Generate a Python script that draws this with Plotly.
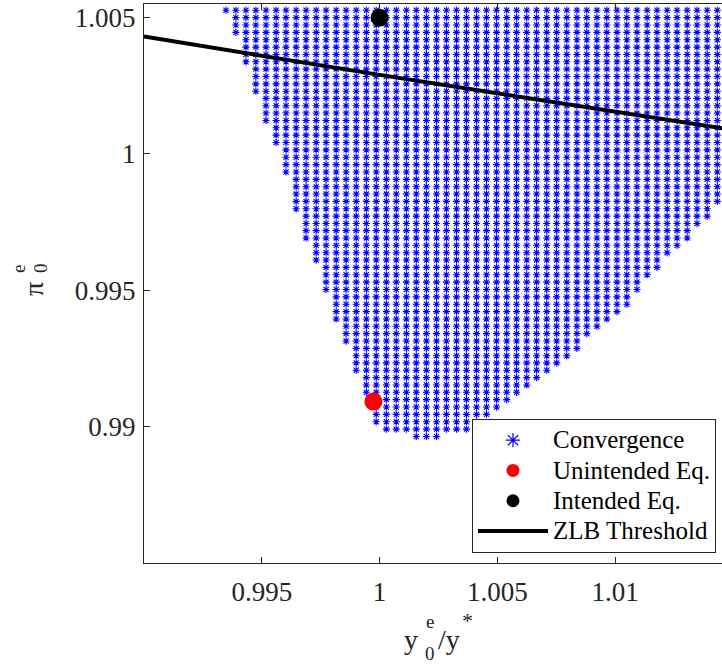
import plotly.graph_objects as go

# ---- data ----
# x positions of the grid columns (y0^e / y*)
x_cols = [0.99348, 0.99390, 0.99433, 0.99475, 0.99518, 0.99561, 0.99603, 0.99646,
          0.99688, 0.99731, 0.99773, 0.99816, 0.99858, 0.99901, 0.99944, 0.99986,
          1.00029, 1.00071, 1.00114, 1.00156, 1.00199, 1.00242, 1.00284, 1.00327,
          1.00369, 1.00412, 1.00454, 1.00497, 1.00540, 1.00582, 1.00625, 1.00667,
          1.00710, 1.00752, 1.00795, 1.00838, 1.00880, 1.00923, 1.00965, 1.01008,
          1.01050, 1.01093, 1.01136, 1.01178, 1.01221, 1.01263, 1.01306, 1.01348,
          1.01391, 1.01434]
# y positions of the grid rows (pi_0^e)
y_rows = [1.00527, 1.00500, 1.00473, 1.00446, 1.00419, 1.00392, 1.00365, 1.00338,
          1.00311, 1.00284, 1.00257, 1.00230, 1.00204, 1.00177, 1.00150, 1.00123,
          1.00096, 1.00069, 1.00042, 1.00015, 0.99988, 0.99961, 0.99934, 0.99907,
          0.99880, 0.99853, 0.99826, 0.99799, 0.99772, 0.99745, 0.99719, 0.99692,
          0.99665, 0.99638, 0.99611, 0.99584, 0.99557, 0.99530, 0.99503, 0.99476,
          0.99449, 0.99422, 0.99395, 0.99368, 0.99341, 0.99314, 0.99287, 0.99260,
          0.99234, 0.99207, 0.99180, 0.99153, 0.99126, 0.99099, 0.99072, 0.99045,
          0.99018, 0.98991, 0.98964]
# lowest converging row for every column (region extends up to the top)
conv_ymin = [1.00527, 1.00446, 1.00338, 1.00230, 1.00123, 1.00042, 0.99934, 0.99799,
             0.99692, 0.99611, 0.99503, 0.99395, 0.99314, 0.99207, 0.99126, 0.99018,
             0.98991, 0.98991, 0.98991, 0.98964, 0.98964, 0.98964, 0.98991, 0.98991,
             0.98991, 0.99018, 0.99045, 0.99072, 0.99099, 0.99126, 0.99153, 0.99180,
             0.99207, 0.99234, 0.99260, 0.99287, 0.99341, 0.99368, 0.99395, 0.99422,
             0.99449, 0.99503, 0.99557, 0.99584, 0.99638, 0.99665, 0.99692, 0.99745,
             0.99772, 0.99826]

unintended_x = [0.99974]
unintended_y = [0.99092]
intended_x = [1.0]
intended_y = [1.005]
zlb_x = [0.99, 1.0, 1.015]
zlb_y = [1.00431, 1.00290, 1.00088]

x_ticks = [0.995, 1.0, 1.005, 1.01]
x_ticktext = ["0.995", "1", "1.005", "1.01"]
y_ticks = [0.99, 0.995, 1.0, 1.005]
y_ticktext = ["0.99", "0.995", "1", "1.005"]

legend_names = ["Convergence", "Unintended Eq.", "Intended Eq.", "ZLB Threshold"]

# ---- build convergence point set ----
conv_x, conv_y = [], []
for xc, ymin in zip(x_cols, conv_ymin):
    for yr in y_rows:
        if yr >= ymin - 1e-7:
            conv_x.append(xc)
            conv_y.append(yr)

FONT = "Liberation Serif"
AX = "#262626"


def lname(s):
    return '<span style="font-size:25px">' + s + '</span>'


fig = go.Figure()
fig.add_trace(go.Scatter(x=conv_x, y=conv_y, mode="markers", showlegend=False,
                         marker=dict(symbol="asterisk-open", size=6, color="#0000FF",
                                     line=dict(color="#0000FF", width=1.1))))
fig.add_trace(go.Scatter(x=zlb_x, y=zlb_y, mode="lines", showlegend=False,
                         line=dict(color="black", width=4)))
fig.add_trace(go.Scatter(x=unintended_x, y=unintended_y, mode="markers", showlegend=False,
                         marker=dict(symbol="circle", size=18, color="#FF0000")))
fig.add_trace(go.Scatter(x=intended_x, y=intended_y, mode="markers", showlegend=False,
                         marker=dict(symbol="circle", size=18, color="black")))

# legend entries
fig.add_trace(go.Scatter(x=[None], y=[None], mode="markers", name=lname(legend_names[0]),
                         marker=dict(symbol="asterisk-open", size=12, color="#0000FF",
                                     line=dict(color="#0000FF", width=1.2))))
fig.add_trace(go.Scatter(x=[None], y=[None], mode="markers", name=lname(legend_names[1]),
                         marker=dict(symbol="circle", size=13, color="#FF0000")))
fig.add_trace(go.Scatter(x=[None], y=[None], mode="markers", name=lname(legend_names[2]),
                         marker=dict(symbol="circle", size=13, color="black")))
fig.add_trace(go.Scatter(x=[None], y=[None], mode="lines", name=lname(legend_names[3]),
                         line=dict(color="black", width=4)))

L, T, B = 144, 4, 104
W, H = 722, 667
pw, ph = W - L, H - T - B


def px(xp):
    return (xp - L) / pw


def py(yp):
    return (H - B - yp) / ph


annos = []
# x-axis title  y_0^e / y^*
annos.append(dict(text="y", x=px(411), y=py(639), font=dict(size=28)))
annos.append(dict(text="e", x=px(430), y=py(621), font=dict(size=19)))
annos.append(dict(text="0", x=px(430), y=py(653), font=dict(size=19)))
annos.append(dict(text="/y", x=px(449), y=py(639), font=dict(size=28)))
annos.append(dict(text="*", x=px(467), y=py(620), font=dict(size=22)))
# y-axis title  pi_0^e (rotated)
annos.append(dict(text="π", x=px(33), y=py(289), font=dict(size=28), textangle=-90))
annos.append(dict(text="e", x=px(18), y=py(269), font=dict(size=19), textangle=-90))
annos.append(dict(text="0", x=px(40), y=py(268), font=dict(size=19), textangle=-90))
for a in annos:
    a.update(xref="paper", yref="paper", showarrow=False, xanchor="center", yanchor="middle")
    a["font"].update(family=FONT, color=AX)

fig.update_layout(
    width=W, height=H,
    margin=dict(l=L, r=0, t=T, b=B, pad=0),
    paper_bgcolor="white", plot_bgcolor="white",
    font=dict(family=FONT, color=AX),
    annotations=annos,
    legend=dict(x=px(472), y=py(553), xanchor="left", yanchor="bottom",
                bgcolor="white", bordercolor=AX, borderwidth=1,
                font=dict(family=FONT, size=21, color="black"),
                itemwidth=70, tracegroupgap=0),
    xaxis=dict(range=[0.99, 1.01454], tickvals=x_ticks, ticktext=x_ticktext,
               ticks="inside", ticklen=6, tickcolor=AX, tickwidth=1,
               showline=True, linecolor=AX, linewidth=1, mirror="ticks",
               showgrid=False, zeroline=False, ticklabelstandoff=5,
               tickfont=dict(family=FONT, size=27, color=AX)),
    yaxis=dict(range=[0.985, 1.0055], tickvals=y_ticks, ticktext=y_ticktext,
               ticks="inside", ticklen=6, tickcolor=AX, tickwidth=1,
               showline=True, linecolor=AX, linewidth=1, mirror=False,
               showgrid=False, zeroline=False, ticklabelstandoff=2,
               tickfont=dict(family=FONT, size=27, color=AX)),
)

fig.write_html("out.html")
